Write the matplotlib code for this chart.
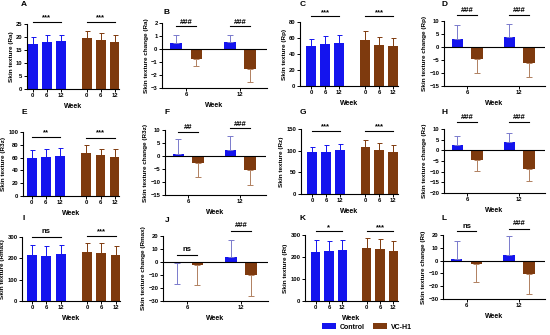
import matplotlib
matplotlib.use("Agg")
import matplotlib.pyplot as plt
from matplotlib.patches import Patch

plt.rcParams['font.family'] = ['Liberation Sans', 'DejaVu Sans']
plt.rcParams['font.weight'] = 'bold'

# ---------------- data ----------------
weeks = ['0', '6', '12']
change_weeks = ['6', '12']
series_names = ['Control', 'VC-H1']

ra_ctrl = [17.5, 18.0, 18.3];   ra_ctrl_err = [2.5, 2.7, 2.4]
ra_vc = [19.5, 18.8, 18.0];     ra_vc_err = [3.0, 2.8, 2.8]
rp_ctrl = [49.5, 52.5, 53.5];   rp_ctrl_err = [9.0, 9.5, 10.0]
rp_vc = [57.0, 51.5, 50.0];     rp_vc_err = [11.5, 9.5, 9.5]
r3z_ctrl = [60.0, 61.0, 62.5];  r3z_ctrl_err = [12.0, 13.0, 13.0]
r3z_vc = [67.0, 64.0, 61.0];    r3z_vc_err = [12.0, 10.0, 12.0]
rz_ctrl = [96.0, 98.0, 101.0];  rz_ctrl_err = [13.0, 14.0, 14.0]
rz_vc = [108.0, 102.0, 98.0];   rz_vc_err = [16.0, 15.0, 15.0]
rmax_ctrl = [215.0, 213.0, 218.0]; rmax_ctrl_err = [48.0, 47.0, 46.0]
rmax_vc = [228.0, 225.0, 216.0];   rmax_vc_err = [44.0, 45.0, 43.0]
rt_ctrl = [225.0, 226.0, 232.0];   rt_ctrl_err = [52.0, 48.0, 46.0]
rt_vc = [241.0, 236.0, 229.0];     rt_vc_err = [47.0, 47.0, 45.0]

ra_chg_ctrl = [0.45, 0.55];   ra_chg_ctrl_err = [0.6, 0.55]
ra_chg_vc = [-0.75, -1.5];    ra_chg_vc_err = [0.55, 1.05]
rp_chg_ctrl = [3.0, 4.0];     rp_chg_ctrl_err = [5.5, 5.0]
rp_chg_vc = [-4.5, -6.0];     rp_chg_vc_err = [5.5, 5.5]
r3z_chg_ctrl = [0.7, 2.2];    r3z_chg_ctrl_err = [6.0, 5.5]
r3z_chg_vc = [-2.8, -5.5];    r3z_chg_vc_err = [5.2, 5.5]
rz_chg_ctrl = [2.3, 4.0];     rz_chg_ctrl_err = [4.2, 4.3]
rz_chg_vc = [-4.5, -8.7];     rz_chg_vc_err = [5.3, 5.8]
rmax_chg_ctrl = [-0.5, 3.5];  rmax_chg_ctrl_err = [16.5, 13.5]
rmax_chg_vc = [-2.0, -10.0];  rmax_chg_vc_err = [16.0, 16.0]
rt_chg_ctrl = [1.0, 4.5];     rt_chg_ctrl_err = [14.0, 14.5]
rt_chg_vc = [-3.0, -10.5];    rt_chg_vc_err = [13.5, 15.5]

C_CTRL = '#1414EE'
C_VC = '#7E3A0E'

W, H = 550, 335
fig = plt.figure(figsize=(5.5, 3.35), dpi=100)

def ax_px(l, t, r, b):
    return fig.add_axes([l / W, 1 - b / H, (r - l) / W, (b - t) / H])

def style(ax):
    for s in ['top', 'right']:
        ax.spines[s].set_visible(False)
    for s in ['left', 'bottom']:
        ax.spines[s].set_linewidth(0.8)
    ax.tick_params(labelsize=4.2, length=2, width=0.7, pad=1.2)
    for lab in ax.get_xticklabels() + ax.get_yticklabels():
        lab.set_fontweight('bold')

def sig(ax, x0, x1, y, ty, txt):
    ax.plot([x0, x1], [y, y], color='black', lw=0.8, clip_on=False)
    ax.text((x0 + x1) / 2, ty, txt, ha='center', va='center', fontsize=5.5,
            fontweight='bold', clip_on=False)

def level_panel(box, ctrl, cerr, vc, verr, ymax, ystep, lab, sigs, xl):
    ax = ax_px(*box)
    xc = [0, 1, 2]
    xv = [3.85, 4.85, 5.85]
    ax.bar(xc, ctrl, width=0.7, color=C_CTRL)
    ax.bar(xv, vc, width=0.7, color=C_VC)
    ax.errorbar(xc, ctrl, yerr=[[0] * 3, cerr], fmt='none', ecolor=C_CTRL,
                elinewidth=0.7, capsize=1.8, capthick=0.7)
    ax.errorbar(xv, vc, yerr=[[0] * 3, verr], fmt='none', ecolor=C_VC,
                elinewidth=0.7, capsize=1.8, capthick=0.7)
    ax.set_xlim(*xl)
    ax.set_ylim(0, ymax)
    ax.set_yticks(range(0, int(ymax) + 1, ystep))
    ax.set_xticks(xc + xv)
    ax.set_xticklabels(weeks + weeks)
    ax.set_xlabel('Week', fontsize=5, fontweight='bold', labelpad=3)
    ax.set_ylabel(f'Skin texture ({lab})', fontsize=4.6, fontweight='bold', labelpad=1.5)
    style(ax)
    (ly0, ty0, t0), (ly1, ty1, t1) = sigs
    sig(ax, xc[0], xc[2], ly0, ty0, t0)
    sig(ax, xv[0], xv[2], ly1, ty1, t1)
    return ax

def change_panel(box, ctrl, cerr, vc, verr, ylim, ystep, lab, sigs):
    ax = ax_px(*box)
    x = [0, 1]
    xc = [i - 0.19 for i in x]
    xv = [i + 0.19 for i in x]
    ax.bar(xc, ctrl, width=0.22, color=C_CTRL)
    ax.bar(xv, vc, width=0.22, color=C_VC)
    for xs, vals, errs, col in [(xc, ctrl, cerr, '#7A7ACC'), (xv, vc, verr, '#B08060')]:
        for xi, v, e in zip(xs, vals, errs):
            up = v >= 0
            ax.errorbar([xi], [v], yerr=[[0 if up else e], [e if up else 0]],
                        fmt='none', ecolor=col, elinewidth=0.7, capsize=2.5,
                        capthick=0.7)
    ax.axhline(0, color='black', lw=0.8)
    ax.set_xlim(-0.45, 1.5)
    ax.set_ylim(*ylim)
    ax.set_yticks(range(int(ylim[0]), int(ylim[1]) + 1, ystep))
    ax.set_xticks(x)
    ax.set_xticklabels(change_weeks)
    ax.set_xlabel('Week', fontsize=5, fontweight='bold', labelpad=3)
    ax.set_ylabel(f'Skin texture change ({lab})', fontsize=4.6, fontweight='bold', labelpad=1.5)
    style(ax)
    for i, (ly, ty, t) in enumerate(sigs):
        sig(ax, xc[i], xv[i], ly, ty, t)
    return ax

# Row 1
level_panel((27, 24, 119, 89), ra_ctrl, ra_ctrl_err, ra_vc, ra_vc_err, 25, 5, 'Ra',
            [(25.8, 27.6, '***'), (25.8, 27.6, '***')], (-0.4, 6.15))
change_panel((162, 23, 267, 88), ra_chg_ctrl, ra_chg_ctrl_err, ra_chg_vc, ra_chg_vc_err,
             (-3, 2), 1, 'Ra', [(1.74, 2.02, '###'), (1.74, 2.02, '###')])
level_panel((300, 22, 398, 86), rp_ctrl, rp_ctrl_err, rp_vc, rp_vc_err, 80, 20, 'Rp',
            [(87.5, 92, '***'), (87.5, 92, '***')], (-0.8, 6.2))
change_panel((444, 21, 545, 86), rp_chg_ctrl, rp_chg_ctrl_err, rp_chg_vc, rp_chg_vc_err,
             (-15, 10), 5, 'Rp', [(12.3, 14.0, '###'), (12.3, 14.0, '###')])
# Row 2
level_panel((23, 132, 119, 196), r3z_ctrl, r3z_ctrl_err, r3z_vc, r3z_vc_err, 100, 20, 'R3z',
            [(92, 99, '**'), (91, 98.5, '***')], (-0.6, 6.15))
change_panel((165, 130, 266, 195), r3z_chg_ctrl, r3z_chg_ctrl_err, r3z_chg_vc, r3z_chg_vc_err,
             (-15, 10), 5, 'R3z', [(9.4, 10.8, '##'), (10.6, 12.2, '###')])
level_panel((301, 129, 398, 194), rz_ctrl, rz_ctrl_err, rz_vc, rz_vc_err, 150, 50, 'Rz',
            [(146, 156, '***'), (146, 156, '***')], (-0.8, 6.2))
change_panel((444, 129, 545, 193), rz_chg_ctrl, rz_chg_ctrl_err, rz_chg_vc, rz_chg_vc_err,
             (-20, 10), 5, 'Rz', [(13.4, 15.2, '###'), (13.4, 15.2, '###')])
# Row 3
level_panel((22, 237, 120, 301), rmax_ctrl, rmax_ctrl_err, rmax_vc, rmax_vc_err, 300, 100, 'Rmax',
            [(300, 326, 'ns'), (303, 324, '***')], (-0.7, 6.15))
change_panel((163, 236, 268, 301), rmax_chg_ctrl, rmax_chg_ctrl_err, rmax_chg_vc, rmax_chg_vc_err,
             (-30, 20), 10, 'Rmax', [(5.4, 9.5, 'ns'), (24.1, 28, '###')])
level_panel((305, 235, 398, 301), rt_ctrl, rt_ctrl_err, rt_vc, rt_vc_err, 300, 100, 'Rt',
            [(320, 332, '*'), (320, 332, '***')], (-0.8, 6.2))
change_panel((443, 235, 545, 299), rt_chg_ctrl, rt_chg_ctrl_err, rt_chg_vc, rt_chg_vc_err,
             (-30, 20), 10, 'Rt', [(23.1, 27, 'ns'), (24.7, 29, '###')])

# panel letters
letters = ['A', 'B', 'C', 'D', 'E', 'F', 'G', 'H', 'I', 'J', 'K', 'L']
lpos = [(24, 5), (167, 13), (303, 5), (444, 5),
        (24, 113), (167, 112), (303, 112), (445, 112),
        (24, 218), (167, 220), (303, 219), (444, 218)]
for t, (px, py) in zip(letters, lpos):
    fig.text(px / W, 1 - py / H, t, fontsize=6, fontweight='bold', ha='center', va='center')

handles = [Patch(facecolor=C_CTRL), Patch(facecolor=C_VC)]
fig.legend(handles, series_names, loc='center', bbox_to_anchor=(367 / W, 1 - 327 / H),
           ncol=2, frameon=False, fontsize=5, handlelength=2.0, handleheight=0.8,
           columnspacing=1.2, handletextpad=0.5)

fig.savefig('out.png', dpi=100)
